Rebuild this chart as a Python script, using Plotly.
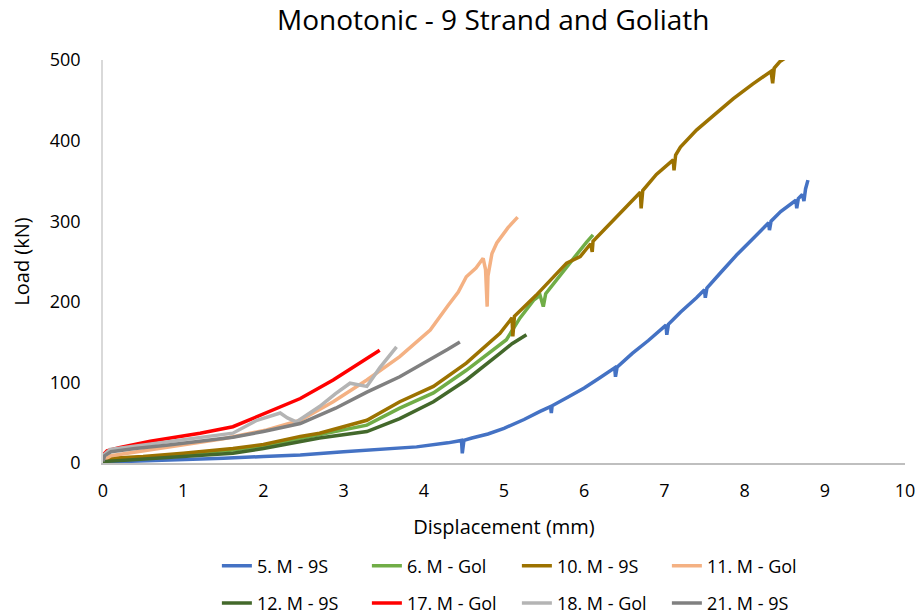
import plotly.graph_objects as go

FONT = "Open Sans"

names = ["5. M - 9S", "6. M - Gol", "10. M - 9S", "11. M - Gol",
         "12. M - 9S", "17. M - Gol", "18. M - Gol", "21. M - 9S"]
colors = ["#4472C4", "#70AD47", "#9C7200", "#F4B183",
          "#43682B", "#FF0000", "#B4B4B4", "#808080"]

x5 = [0, 0.05, 0.3, 0.7, 1.0, 1.5, 2.0, 2.46, 3.0, 3.5, 3.91, 4.3, 4.47, 4.48, 4.5, 4.6, 4.8, 5.0,
      5.25, 5.45, 5.58, 5.59, 5.6, 5.8, 6.0, 6.2, 6.38, 6.39, 6.41, 6.6, 6.8, 7.02, 7.03, 7.05, 7.2,
      7.4, 7.5, 7.51, 7.53, 7.7, 7.9, 8.1, 8.3, 8.31, 8.33, 8.45, 8.55, 8.64, 8.65, 8.67, 8.72,
      8.74, 8.76, 8.79]
y5 = [0, 1, 2, 3, 4, 6, 8, 10, 14, 17, 20, 25, 28, 12, 28, 31, 36, 43,
      54, 64, 70, 62, 71, 82, 93, 106, 118, 107, 119, 136, 152, 171, 159, 172, 187,
      205, 215, 205, 217, 236, 258, 278, 298, 289, 300, 312, 320, 326, 316, 328, 333,
      325, 340, 351]

x6 = [0, 0.03, 0.1, 0.5, 1.0, 1.62, 2.0, 2.46, 3.0, 3.29, 3.7, 4.12, 4.53, 5.03, 5.2,
      5.37, 5.45, 5.49, 5.52, 5.78, 5.9, 6.03, 6.11]
y6 = [0, 3, 5, 7, 11, 16, 21, 30, 41, 47, 68, 87, 115, 153, 180,
      202, 208, 194, 210, 244, 258, 274, 283]

x10 = [0, 0.03, 0.1, 0.5, 1.0, 1.62, 2.0, 2.46, 2.7, 3.0, 3.29, 3.7, 4.12, 4.53, 4.95,
       5.1, 5.11, 5.13, 5.4, 5.78, 5.95, 6.08, 6.1, 6.11, 6.3, 6.5, 6.7, 6.71, 6.73, 6.9,
       7.11, 7.12, 7.14, 7.2, 7.4, 7.6, 7.86, 8.1, 8.33, 8.35, 8.37, 8.44, 8.5, 8.6]
y10 = [0, 4, 6, 8, 12, 18, 23, 33, 37, 45, 53, 76, 95, 124, 161,
       180, 157, 182, 208, 248, 256, 272, 262, 275, 295, 315, 336, 316, 338, 358,
       376, 363, 382, 392, 413, 430, 452, 470, 486, 471, 490, 498, 502, 505]

x11 = [0, 0.03, 0.1, 0.5, 0.79, 1.0, 1.5, 2.04, 2.46, 2.87, 3.29, 3.7, 4.08, 4.3, 4.43,
       4.53, 4.65, 4.74, 4.77, 4.79, 4.8, 4.85, 4.91, 5.05, 5.17]
y11 = [0, 5, 9, 15, 19, 22, 30, 41, 53, 76, 103, 132, 165, 195, 212,
       231, 242, 254, 240, 194, 232, 260, 273, 292, 305]

x12 = [0, 0.03, 0.37, 1.0, 1.62, 2.0, 2.46, 2.7, 3.29, 3.7, 4.12, 4.53, 4.95, 5.1, 5.28]
y12 = [0, 2, 4, 8, 12, 18, 26, 31, 39, 55, 76, 103, 136, 148, 159]

x17 = [0, 0.02, 0.05, 0.2, 0.59, 1.0, 1.21, 1.62, 2.04, 2.46, 2.87, 3.2, 3.45]
y17 = [5, 12, 15, 19, 27, 33, 37, 45, 62, 80, 103, 124, 140]

x18 = [0, 0.02, 0.09, 0.4, 0.79, 1.2, 1.62, 1.92, 2.12, 2.21, 2.3, 2.41, 2.7, 2.9, 3.08,
       3.29, 3.45, 3.55, 3.66]
y18 = [3, 11, 17, 21, 26, 31, 37, 53, 59, 62, 56, 51, 70, 86, 99,
       95, 118, 131, 144]

x21 = [0, 0.02, 0.1, 0.4, 0.79, 1.2, 1.62, 2.0, 2.46, 2.9, 3.29, 3.7, 4.12, 4.3, 4.45]
y21 = [2, 9, 14, 18, 22, 27, 32, 39, 49, 68, 88, 107, 130, 141, 150]

xs = [x5, x6, x10, x11, x12, x17, x18, x21]
ys = [y5, y6, y10, y11, y12, y17, y18, y21]

x_ticks = list(range(0, 11))
y_ticks = [0, 100, 200, 300, 400, 500]

fig = go.Figure()
for i, (n, c, xv, yv) in enumerate(zip(names, colors, xs, ys)):
    fig.add_trace(go.Scatter(
        x=xv, y=yv, name=n, mode="lines",
        line=dict(color=c, width=3.5),
        legend="legend" if i < 4 else "legend2",
    ))

legend_common = dict(
    orientation="h", xanchor="left", yanchor="middle",
    font=dict(family=FONT, size=18, color="#000000"),
    entrywidth=105, itemwidth=30, bgcolor="rgba(0,0,0,0)", traceorder="normal",
)

fig.update_layout(
    width=922, height=616,
    margin=dict(l=103, r=17, t=60, b=153, autoexpand=False),
    paper_bgcolor="white", plot_bgcolor="white",
    title=dict(text="Monotonic - 9 Strand and Goliath", x=0.535, xanchor="center",
               y=0.967, yanchor="middle",
               font=dict(family=FONT, size=28, color="#000000")),
    xaxis=dict(range=[0, 10], tickvals=x_ticks, showgrid=False, zeroline=False,
               showline=True, linecolor="#BFBFBF", linewidth=1.5, ticks="",
               ticklabelstandoff=11, automargin=False,
               tickfont=dict(family=FONT, size=18, color="#000000"),
               title=dict(text="Displacement (mm)", standoff=19,
                          font=dict(family=FONT, size=20, color="#000000"))),
    yaxis=dict(range=[0, 500], tickvals=y_ticks, showgrid=False, zeroline=False,
               showline=True, linecolor="#D9D9D9", linewidth=1.5, ticks="",
               ticklabelstandoff=17, automargin=False,
               tickfont=dict(family=FONT, size=18, color="#000000"),
               title=dict(text="Load (kN)", standoff=15,
                          font=dict(family=FONT, size=20, color="#000000"))),
    legend=dict(x=0.142, y=-0.256, **legend_common),
    legend2=dict(x=0.142, y=-0.348, **legend_common),
)

fig.write_html("out.html")
